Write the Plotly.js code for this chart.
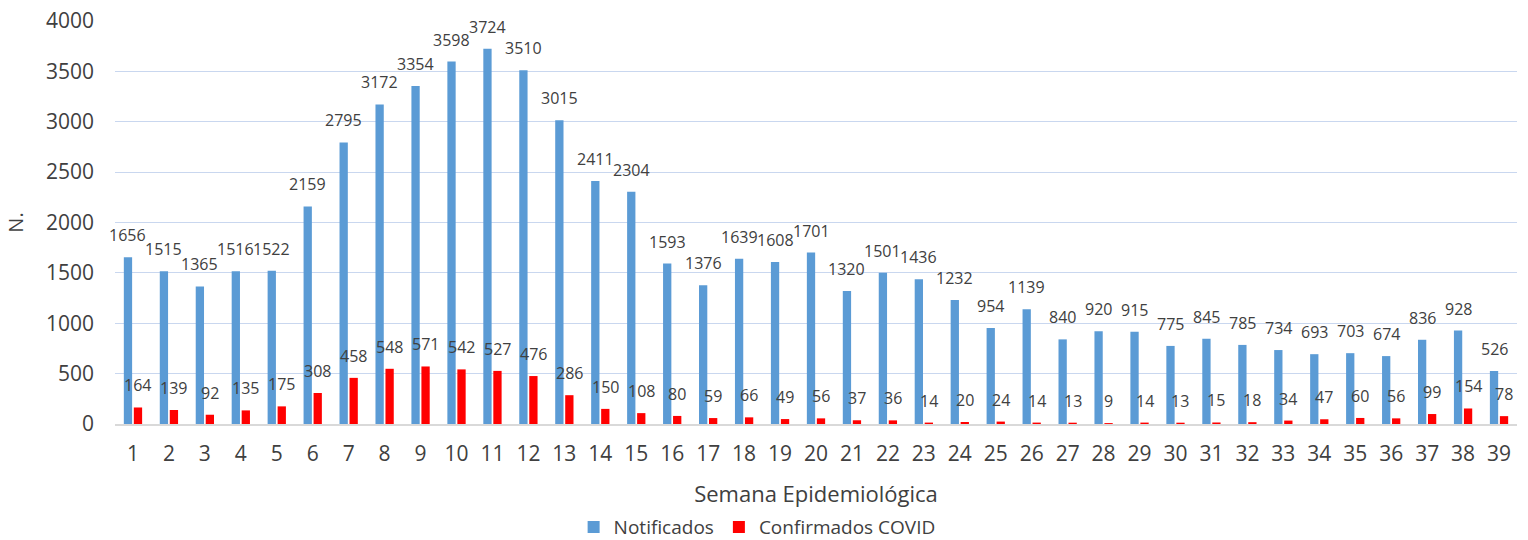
<!DOCTYPE html>
<html>
<head>
<meta charset="utf-8">
<script src="https://cdn.plot.ly/plotly-3.0.1.min.js"></script>
<style>html,body{margin:0;padding:0;background:#fff;}#chart{width:1528px;height:540px;}</style>
</head>
<body>
<div id="chart"></div>
<script>
const weeks = ["1","2","3","4","5","6","7","8","9","10","11","12","13","14","15","16","17","18","19","20","21","22","23","24","25","26","27","28","29","30","31","32","33","34","35","36","37","38","39"];
const notificados = [1656,1515,1365,1516,1522,2159,2795,3172,3354,3598,3724,3510,3015,2411,2304,1593,1376,1639,1608,1701,1320,1501,1436,1232,954,1139,840,920,915,775,845,785,734,693,703,674,836,928,526];
const confirmados = [164,139,92,135,175,308,458,548,571,542,527,476,286,150,108,80,59,66,49,56,37,36,14,20,24,14,13,9,14,13,15,18,34,47,60,56,99,154,78];
const yTicks = [0,500,1000,1500,2000,2500,3000,3500,4000];

const FONT = "Open Sans, Liberation Sans, sans-serif";
const TXT = "#404040";

const traces = [
  {type:"bar", name:"Notificados", x:weeks, y:notificados, marker:{color:"#5B9BD5"}, hoverinfo:"x+y"},
  {type:"bar", name:"Confirmados COVID", x:weeks, y:confirmados, marker:{color:"#FF0000"}, hoverinfo:"x+y"}
];

// category axis: annotation x given as category index
const annotations = [];
weeks.forEach((w,i)=>{
  annotations.push({x:i, y:notificados[i], xref:"x", yref:"y", text:String(notificados[i]), showarrow:false,
    xshift:-5, yshift:22, yanchor:"middle", xanchor:"center", font:{family:FONT, size:16, color:TXT}});
  annotations.push({x:i, y:confirmados[i], xref:"x", yref:"y", text:String(confirmados[i]), showarrow:false,
    xshift:5, yshift:22, yanchor:"middle", xanchor:"center", font:{family:FONT, size:16, color:TXT}});
});

const layout = {
  width:1528, height:540,
  margin:{l:115, r:11, t:21, b:116},
  paper_bgcolor:"#ffffff", plot_bgcolor:"#ffffff",
  font:{family:FONT, color:TXT},
  barmode:"group", bargap:0.444, bargroupgap:0.17,
  showlegend:true,
  legend:{orientation:"h", xref:"container", yref:"container", x:0.4955, xanchor:"center", y:0.024, yanchor:"middle",
    font:{family:FONT, size:19, color:TXT}, traceorder:"normal"},
  xaxis:{type:"category", range:[-0.5, weeks.length-0.5], tickfont:{family:FONT, size:21, color:TXT}, ticks:"", showgrid:false,
    showline:true, linecolor:"#D9D9D9", linewidth:1.5, ticklabelstandoff:10,
    automargin:false,
    title:{text:"Semana Epidemiológica", font:{family:FONT, size:22, color:TXT}, standoff:23}},
  yaxis:{range:[0,4000], tickvals:yTicks, ticktext:yTicks.map(String), tickfont:{family:FONT, size:21, color:TXT},
    showgrid:true, gridcolor:"#C9D7EF", gridwidth:1.2, zeroline:false, ticks:"", ticklabelstandoff:20,
    automargin:false,
    title:{text:"N.", font:{family:FONT, size:20, color:TXT}, standoff:16}},
  annotations:annotations
};

Plotly.newPlot("chart", traces, layout, {displayModeBar:false, staticPlot:true});
</script>
</body>
</html>
